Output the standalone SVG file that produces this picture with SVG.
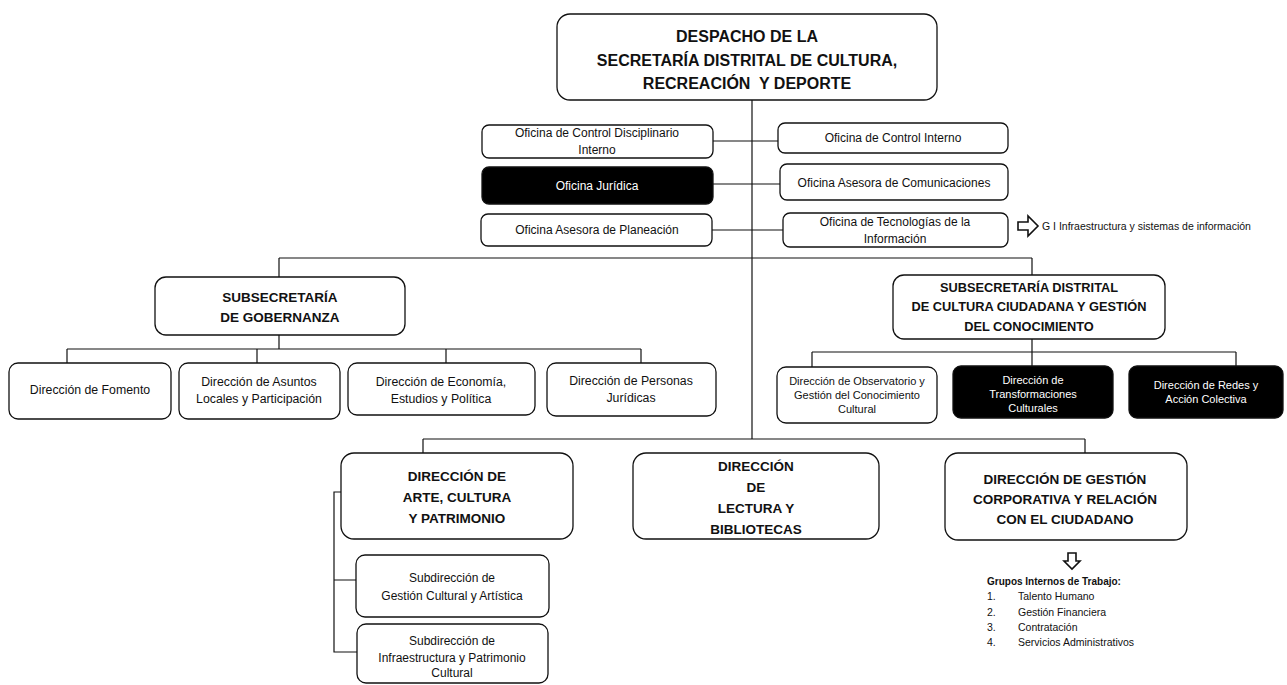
<svg xmlns="http://www.w3.org/2000/svg" width="1287" height="685" viewBox="0 0 1287 685">
<style>
.bx{fill:#fff;stroke:#111;stroke-width:1.3}
.bk{fill:#000;stroke:#111;stroke-width:1.3}
.ln{fill:none;stroke:#111;stroke-width:1.2}
text{font-family:"Liberation Sans",Arial,sans-serif;fill:#111;text-anchor:middle}
.h1{font-size:16px;font-weight:bold}
.h2{font-size:13.5px;font-weight:bold}
.h3{font-size:12.8px;font-weight:bold}
.o{font-size:12px}
.d{font-size:12.3px}
.s{font-size:11px}
.w{fill:#fff}
.sm{font-size:10.5px;text-anchor:start}
.gb{font-size:10px;font-weight:bold;text-anchor:start}
.ar{fill:#fff;stroke:#111;stroke-width:1.6}
</style>
<rect width="1287" height="685" fill="#fff"/>
<g id="connectors">
<path class="ln" d="M752 100V439"/>
<path class="ln" d="M713 141H778M713 184H780M712 230H783"/>
<path class="ln" d="M279 258H1032M279 258V277M1032 258V275"/>
<path class="ln" d="M279 335V349M67 349H641M67 349V363M257 349V363M446 349V363M641 349V363"/>
<path class="ln" d="M1032 339V352M812 352H1236M812 352V367M1032 352V367M1236 352V367"/>
<path class="ln" d="M423 439H1085M423 439V453M1085 439V453"/>
<path class="ln" d="M341 492H334V652H357M334 580H356"/>
</g>
<g id="despacho">
<rect class="bx" x="557" y="14" width="380" height="86" rx="13"/>
<text class="h1" x="747" y="42">DESPACHO DE LA</text>
<text class="h1" x="747" y="66">SECRETARÍA DISTRITAL DE CULTURA,</text>
<text class="h1" x="747" y="89" xml:space="preserve">RECREACIÓN  Y DEPORTE</text>
</g>
<g id="of-disciplinario">
<rect class="bx" x="482" y="125" width="231" height="33" rx="7"/>
<text class="o" x="597" y="137">Oficina de Control Disciplinario</text>
<text class="o" x="597" y="154">Interno</text>
</g>
<g id="of-juridica">
<rect class="bk" x="482" y="167" width="231" height="37" rx="7"/>
<text class="o w" x="597" y="190">Oficina Jurídica</text>
</g>
<g id="of-planeacion">
<rect class="bx" x="481" y="214" width="231" height="32" rx="7"/>
<text class="o" x="597" y="234">Oficina Asesora de Planeación</text>
</g>
<g id="of-control-interno">
<rect class="bx" x="778" y="123" width="230" height="30" rx="7"/>
<text class="o" x="893" y="142">Oficina de Control Interno</text>
</g>
<g id="of-comunicaciones">
<rect class="bx" x="780" y="164" width="228" height="36" rx="7"/>
<text class="o" x="894" y="187">Oficina Asesora de Comunicaciones</text>
</g>
<g id="of-tecnologias">
<rect class="bx" x="783" y="213" width="225" height="34" rx="7"/>
<text class="o" x="895" y="226">Oficina de Tecnologías  de la</text>
<text class="o" x="895" y="243">Información</text>
</g>
<g id="gi-infraestructura">
<path class="ar" d="M1018 222H1028V216L1038 226L1028 236V230H1018Z"/>
<text class="sm" x="1042" y="230">G I Infraestructura y sistemas de información</text>
</g>
<g id="sub-gobernanza">
<rect class="bx" x="155" y="277" width="250" height="58" rx="11"/>
<text class="h2" x="280" y="302">SUBSECRETARÍA</text>
<text class="h2" x="280" y="322">DE GOBERNANZA</text>
</g>
<g id="dir-fomento">
<rect class="bx" x="9" y="363" width="162" height="56" rx="9"/>
<text class="d" x="90" y="394">Dirección de Fomento</text>
</g>
<g id="dir-asuntos-locales">
<rect class="bx" x="179" y="363" width="161" height="56" rx="9"/>
<text class="d" x="259" y="386">Dirección de Asuntos</text>
<text class="d" x="259" y="403">Locales y Participación</text>
</g>
<g id="dir-economia">
<rect class="bx" x="348" y="363" width="187" height="52" rx="9"/>
<text class="d" x="441" y="386">Dirección de Economía,</text>
<text class="d" x="441" y="403">Estudios y Política</text>
</g>
<g id="dir-personas-juridicas">
<rect class="bx" x="547" y="363" width="169" height="53" rx="9"/>
<text class="d" x="631" y="385">Dirección de Personas</text>
<text class="d" x="631" y="402">Jurídicas</text>
</g>
<g id="sub-cultura-ciudadana">
<rect class="bx" x="893" y="275" width="272" height="64" rx="11"/>
<text class="h3" x="1029" y="292">SUBSECRETARÍA DISTRITAL</text>
<text class="h3" x="1029" y="311">DE CULTURA CIUDADANA Y GESTIÓN</text>
<text class="h3" x="1029" y="331">DEL CONOCIMIENTO</text>
</g>
<g id="dir-observatorio">
<rect class="bx" x="777" y="367" width="160" height="56" rx="9"/>
<text class="s" x="857" y="385">Dirección de Observatorio y</text>
<text class="s" x="857" y="399">Gestión del Conocimiento</text>
<text class="s" x="857" y="413">Cultural</text>
</g>
<g id="dir-transformaciones">
<rect class="bk" x="953" y="366" width="160" height="52" rx="8"/>
<text class="s w" x="1033" y="384">Dirección de</text>
<text class="s w" x="1033" y="398">Transformaciones</text>
<text class="s w" x="1033" y="412">Culturales</text>
</g>
<g id="dir-redes">
<rect class="bk" x="1129" y="366" width="154" height="52" rx="8"/>
<text class="s w" x="1206" y="389">Dirección de Redes y</text>
<text class="s w" x="1206" y="403">Acción Colectiva</text>
</g>
<g id="dir-arte">
<rect class="bx" x="341" y="453" width="232" height="86" rx="13"/>
<text class="h2" x="457" y="481">DIRECCIÓN DE</text>
<text class="h2" x="457" y="502">ARTE, CULTURA</text>
<text class="h2" x="457" y="523">Y PATRIMONIO</text>
</g>
<g id="dir-lectura">
<rect class="bx" x="633" y="453" width="246" height="86" rx="13"/>
<text class="h2" x="756" y="471">DIRECCIÓN</text>
<text class="h2" x="756" y="492">DE</text>
<text class="h2" x="756" y="513">LECTURA Y</text>
<text class="h2" x="756" y="534">BIBLIOTECAS</text>
</g>
<g id="dir-gestion-corporativa">
<rect class="bx" x="945" y="453" width="242" height="87" rx="13"/>
<text class="h2" x="1065" y="484">DIRECCIÓN DE GESTIÓN</text>
<text class="h2" x="1065" y="504">CORPORATIVA Y RELACIÓN</text>
<text class="h2" x="1065" y="524">CON EL CIUDADANO</text>
</g>
<g id="grupos-internos">
<path class="ar" d="M1068 553H1076V561H1080L1072 569L1064 561H1068Z"/>
<text class="gb" x="987" y="585">Grupos Internos de Trabajo:</text>
<text class="sm" x="987" y="600">1.</text><text class="sm" x="1018" y="600">Talento Humano</text>
<text class="sm" x="987" y="616">2.</text><text class="sm" x="1018" y="616">Gestión Financiera</text>
<text class="sm" x="987" y="631">3.</text><text class="sm" x="1018" y="631">Contratación</text>
<text class="sm" x="987" y="646">4.</text><text class="sm" x="1018" y="646">Servicios Administrativos</text>
</g>
<g id="subdir-gestion-cultural">
<rect class="bx" x="356" y="555" width="193" height="62" rx="9"/>
<text class="o" x="452" y="582">Subdirección de</text>
<text class="o" x="452" y="600">Gestión Cultural y Artística</text>
</g>
<g id="subdir-infraestructura">
<rect class="bx" x="357" y="624" width="191" height="59" rx="9"/>
<text class="o" x="452" y="645">Subdirección de</text>
<text class="o" x="452" y="662">Infraestructura y Patrimonio</text>
<text class="o" x="452" y="677">Cultural</text>
</g>
</svg>
